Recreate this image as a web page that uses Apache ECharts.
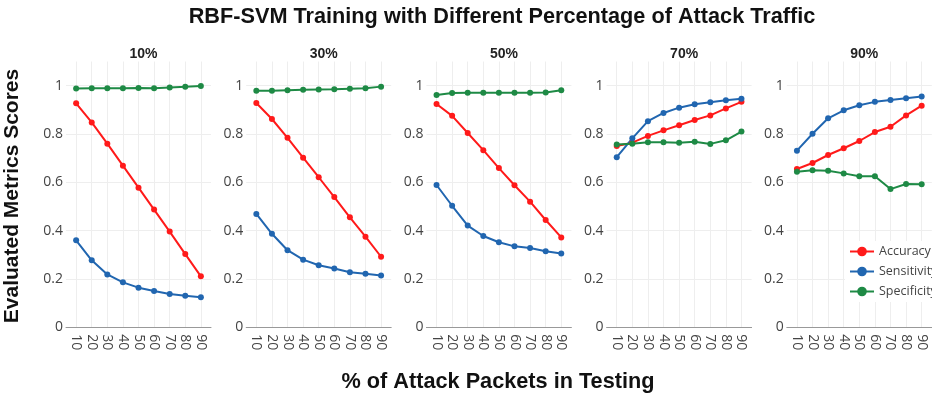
<!DOCTYPE html>
<html>
<head>
<meta charset="utf-8">
<script src="https://cdn.jsdelivr.net/npm/echarts@6/dist/echarts.min.js"></script>
<style>
  html, body { margin: 0; padding: 0; background: #fff; }
  #chart { width: 932px; height: 397px; }
</style>
</head>
<body>
<div id="chart"></div>
<script>
// % of attack packets in the test set (x axis)
const testPct = [10, 20, 30, 40, 50, 60, 70, 80, 90];
// % of attack traffic used in training (one panel each)
const panelTitles = ['10%', '30%', '50%', '70%', '90%'];
const metricNames = ['Accuracy', 'Sensitivity', 'Specificity'];
const yTicks = [0, 0.2, 0.4, 0.6, 0.8, 1];

// Training with 10% attack traffic
const accuracy10 = [0.927, 0.848, 0.760, 0.669, 0.578, 0.487, 0.396, 0.303, 0.211];
const sensitivity10 = [0.360, 0.277, 0.219, 0.186, 0.164, 0.150, 0.138, 0.131, 0.124];
const specificity10 = [0.988, 0.989, 0.989, 0.989, 0.990, 0.989, 0.992, 0.995, 0.999];

// Training with 30% attack traffic
const accuracy30 = [0.928, 0.862, 0.784, 0.702, 0.621, 0.539, 0.455, 0.375, 0.292];
const sensitivity30 = [0.469, 0.387, 0.319, 0.280, 0.257, 0.243, 0.228, 0.222, 0.214];
const specificity30 = [0.979, 0.979, 0.981, 0.983, 0.984, 0.985, 0.987, 0.989, 0.996];

// Training with 50% attack traffic
const accuracy50 = [0.924, 0.875, 0.804, 0.733, 0.659, 0.588, 0.520, 0.444, 0.372];
const sensitivity50 = [0.589, 0.503, 0.421, 0.378, 0.352, 0.335, 0.328, 0.315, 0.305];
const specificity50 = [0.961, 0.970, 0.971, 0.971, 0.971, 0.971, 0.971, 0.972, 0.981];

// Training with 70% attack traffic
const accuracy70 = [0.750, 0.764, 0.792, 0.815, 0.836, 0.858, 0.877, 0.906, 0.933];
const sensitivity70 = [0.704, 0.782, 0.853, 0.887, 0.909, 0.923, 0.931, 0.940, 0.946];
const specificity70 = [0.757, 0.760, 0.766, 0.766, 0.764, 0.768, 0.759, 0.774, 0.810];

// Training with 90% attack traffic
const accuracy90 = [0.655, 0.680, 0.713, 0.741, 0.771, 0.808, 0.830, 0.877, 0.917];
const sensitivity90 = [0.731, 0.801, 0.865, 0.898, 0.919, 0.933, 0.941, 0.948, 0.955];
const specificity90 = [0.644, 0.650, 0.648, 0.637, 0.625, 0.625, 0.572, 0.593, 0.592];

const panels = [
  [accuracy10, sensitivity10, specificity10],
  [accuracy30, sensitivity30, specificity30],
  [accuracy50, sensitivity50, specificity50],
  [accuracy70, sensitivity70, specificity70],
  [accuracy90, sensitivity90, specificity90]
];

const colors = ['#ff1a1a', '#2166b0', '#1e8a45'];
const tickFont = '"Open Sans", "DejaVu Sans", sans-serif';
const boldFont = '"Liberation Sans", Arial, sans-serif';

const gridLeft0 = 66, gridStep = 180.2, gridWidth = 145, gridTop = 61.5, gridHeight = 265.8;

const grids = [], xAxes = [], yAxes = [], series = [], titles = [];

titles.push({
  text: 'RBF-SVM Training with Different Percentage of Attack Traffic',
  left: 497, top: 1, textAlign: 'center',
  textStyle: { fontFamily: boldFont, fontSize: 21.7, fontWeight: 'bold', color: '#111' }
});

panelTitles.forEach((name, i) => {
  const left = gridLeft0 + gridStep * i;
  grids.push({ left: left, top: gridTop, width: gridWidth, height: gridHeight,
               containLabel: false, outerBoundsMode: 'none' });
  titles.push({
    text: name, left: left + gridWidth / 2, top: 42, textAlign: 'center',
    textStyle: { fontFamily: boldFont, fontSize: 14, fontWeight: 'bold', color: '#222' }
  });
  xAxes.push({
    type: 'value', gridIndex: i, min: 3.5, max: 96.5,
    axisLine: { show: true, onZero: true, lineStyle: { color: '#999', width: 1 } },
    axisTick: { show: false, customValues: testPct },
    axisLabel: { customValues: testPct, rotate: -90, margin: 7, color: '#444',
                 fontFamily: tickFont, fontSize: 14 },
    splitLine: { show: true, lineStyle: { color: '#eeeeee', width: 1 } }
  });
  yAxes.push({
    type: 'value', gridIndex: i, min: 0, max: 1.1,
    axisLine: { show: false },
    axisTick: { show: false, customValues: yTicks },
    axisLabel: { customValues: yTicks, margin: 3, color: '#444',
                 fontFamily: tickFont, fontSize: 14 },
    splitLine: { show: true, lineStyle: { color: '#eeeeee', width: 1 } }
  });
  panels[i].forEach((values, k) => {
    series.push({
      name: metricNames[k], type: 'line', xAxisIndex: i, yAxisIndex: i,
      data: testPct.map((x, j) => [x, values[j]]),
      symbol: 'circle', symbolSize: 6, showSymbol: true,
      lineStyle: { color: colors[k], width: 2 },
      itemStyle: { color: colors[k] },
      emphasis: { disabled: true },
      animation: false, z: 3
    });
  });
});

const chart = echarts.init(document.getElementById('chart'), null, { renderer: 'canvas' });
chart.setOption({
  animation: false,
  backgroundColor: '#ffffff',
  title: titles,
  grid: grids,
  xAxis: xAxes,
  yAxis: yAxes,
  series: series,
  legend: {
    data: metricNames,
    orient: 'vertical',
    left: 845, top: 241,
    itemWidth: 24, itemHeight: 12, itemGap: 7,
    padding: [4, 4, 4, 4],
    backgroundColor: '#ffffff',
    textStyle: { fontFamily: tickFont, fontSize: 12.5, color: '#444' },
    z: 10
  },
  graphic: [
    {
      type: 'text', x: 12, y: 196, rotation: Math.PI / 2,
      style: {
        text: 'Evaluated Metrics Scores', x: 0, y: 0,
        fontFamily: boldFont, fontSize: 21, fontWeight: 'bold', fill: '#111',
        textAlign: 'center', textVerticalAlign: 'middle'
      }
    },
    {
      type: 'text',
      style: {
        text: '% of Attack Packets in Testing', x: 498, y: 382,
        fontFamily: boldFont, fontSize: 21.7, fontWeight: 'bold', fill: '#111',
        textAlign: 'center', textVerticalAlign: 'middle'
      }
    }
  ]
});
</script>
</body>
</html>
